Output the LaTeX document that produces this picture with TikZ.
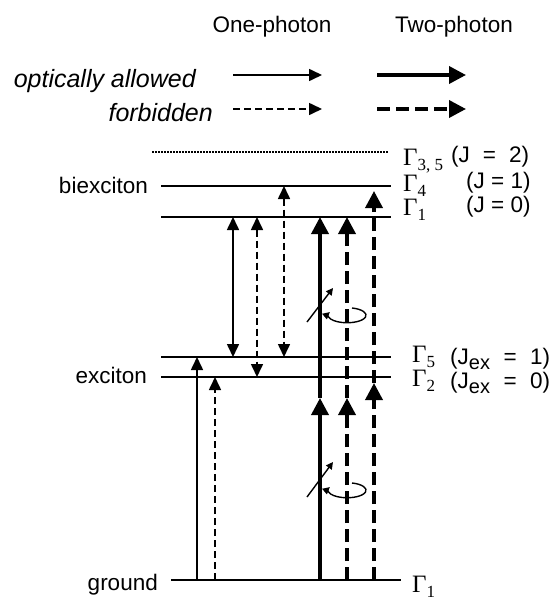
\documentclass[tikz,border=0pt]{standalone}
\usepackage{fontspec}
\setmainfont{Liberation Sans}
\newfontfamily\gfont{Liberation Serif}
\usetikzlibrary{arrows.meta,calc}
\newcommand\fsz{\fontsize{22.5}{27}\selectfont}
\newcommand\GG[1]{{\gfont\fontsize{25}{27}\selectfont Γ\raisebox{-5pt}{\fontsize{17}{17}\selectfont #1}}}
\newcommand\Jx[1]{(J\raisebox{-5pt}{\fontsize{20}{20}\selectfont ex}\hspace{0.6em}=\hspace{0.6em}#1)}
\begin{document}
\begin{tikzpicture}[x=1pt,y=-1pt,
  lvl/.style={line width=1.8pt},
  thinl/.style={line width=1.6pt},
  thickl/.style={line width=3.6pt},
  thindash/.style={thinl, dash pattern=on 7pt off 4pt},
  thickdash/.style={thickl, dash pattern=on 13pt off 6pt},
  tipA/.style={-{Triangle[length=13pt,width=12pt]}},
  tipAA/.style={{Triangle[length=13pt,width=12pt]}-{Triangle[length=13pt,width=12pt]}},
  tipB/.style={-{Triangle[length=17pt,width=17pt]}},
  lab/.style={font=\fsz, inner sep=0pt},
  ilab/.style={font=\fontsize{25}{30}\selectfont\itshape, inner sep=0pt},
  pol/.style={line width=1.4pt, -{Triangle[length=7pt,width=7pt]}}
]
\useasboundingbox (0,0) rectangle (556,602);
% header
\node[lab] (h1) at (272,27) {One-photon};
\node[lab] (h2) at (454,27) {Two-photon};
\node[ilab, anchor=base east] (lg1) at (196,88) {optically allowed};
\node[ilab, anchor=base east] (lg2) at (213,121) {forbidden};
\coordinate (a1s) at (233,75); \coordinate (a1e) at (322,75);
\coordinate (a2s) at (377,75); \coordinate (a2e) at (466,75);
\coordinate (b1s) at (233,109); \coordinate (b1e) at (322,109);
\coordinate (b2s) at (377,109); \coordinate (b2e) at (466,109);
\draw[thinl, tipA] (a1s) -- (a1e);
\draw[thickl, tipB] (a2s) -- (a2e);
\draw[thindash, tipA] (b1s) -- (b1e);
\draw[thickdash, tipB] (b2s) -- (b2e);
% levels
\coordinate (L35a) at (152,152); \coordinate (L35b) at (388,152);
\coordinate (L4a) at (161,186); \coordinate (L4b) at (391,186);
\coordinate (L1a) at (161,217); \coordinate (L1b) at (391,217);
\coordinate (L5a) at (161,357); \coordinate (L5b) at (391,357);
\coordinate (L2a) at (161,377); \coordinate (L2b) at (391,377);
\coordinate (LGa) at (171,580); \coordinate (LGb) at (401,580);
\coordinate (V1) at (0,398); \coordinate (V2) at (0,383);
\draw[line width=1.5pt, dash pattern=on 1.5pt off 1.5pt] (L35a) -- (L35b);
\draw[lvl] (L4a) -- (L4b);
\draw[lvl] (L1a) -- (L1b);
\draw[lvl] (L5a) -- (L5b);
\draw[lvl] (L2a) -- (L2b);
\draw[lvl] (LGa) -- (LGb);
% left labels
\node[lab, anchor=base east] (tb) at (148,193) {biexciton};
\node[lab, anchor=base east] (te) at (147,383) {exciton};
\node[lab, anchor=base east] (tg) at (158,590) {ground};
% right labels
\node[inner sep=0pt, anchor=base west] (g35) at (403,165) {\GG{3, 5}};
\node[lab, anchor=base west] (j35) at (451,162) {(J\hspace{0.58em}=\hspace{0.58em}2)};
\node[inner sep=0pt, anchor=base west] (g4) at (403,191) {\GG{4}};
\node[lab, anchor=base west] (j4) at (466,188) {(J = 1)};
\node[inner sep=0pt, anchor=base west] (g1) at (403,215) {\GG{1}};
\node[lab, anchor=base west] (j1) at (466,212) {(J = 0)};
\node[inner sep=0pt, anchor=base west] (g5) at (412,362) {\GG{5}};
\node[lab, anchor=base west] (j5) at (450,364) {\Jx{1}};
\node[inner sep=0pt, anchor=base west] (g2) at (412,386) {\GG{2}};
\node[lab, anchor=base west] (j2) at (450,388) {\Jx{0}};
\node[inner sep=0pt, anchor=base west] (gg) at (412,592) {\GG{1}};
% columns
\coordinate (cA) at (233,0); \coordinate (cB) at (257,0); \coordinate (cC) at (284,0);
\coordinate (cD) at (197,0); \coordinate (cE) at (215,0);
\coordinate (cF) at (320,0); \coordinate (cG) at (347,0); \coordinate (cH) at (374,0);
\coordinate (T4) at (0,191);
% one-photon biexciton-exciton
\draw[thinl, tipAA] (cA |- L1a) -- (cA |- L5a);
\draw[thindash, tipAA] (cB |- L1a) -- (cB |- L2a);
\draw[thindash, tipAA] (cC |- L4a) -- (cC |- L5a);
% one-photon ground-exciton
\draw[thinl, tipA] (cD |- LGa) -- (cD |- L5a);
\draw[thindash, tipA] (cE |- LGa) -- (cE |- L2a);
% two-photon
\draw[thickl, tipB] (cF |- LGa) -- (cF |- V1);
\draw[thickl, tipB] (cF |- V1) -- (cF |- L1a);
\draw[thickdash, tipB] (cG |- LGa) -- (cG |- V1);
\draw[thickdash, tipB] (cG |- V1) -- (cG |- L1a);
\draw[thickdash, tipB] (cH |- LGa) -- (cH |- V2);
\draw[thickdash, tipB] (cH |- V2) -- (cH |- T4);
% polarisation symbols
\coordinate (p1s) at (307,322); \coordinate (p1e) at (333,288);
\coordinate (p2s) at (307,497); \coordinate (p2e) at (333,462);
\draw[pol] (p1s) -- (p1e);
\draw[pol] (p2s) -- (p2e);
\coordinate (c1) at (352,308); \coordinate (c2) at (352,483);
\draw[pol] (c1) arc[start angle=-75, end angle=205, x radius=19, y radius=7.5];
\draw[pol] (c2) arc[start angle=-75, end angle=205, x radius=19, y radius=7.5];
\end{tikzpicture}
\end{document}
